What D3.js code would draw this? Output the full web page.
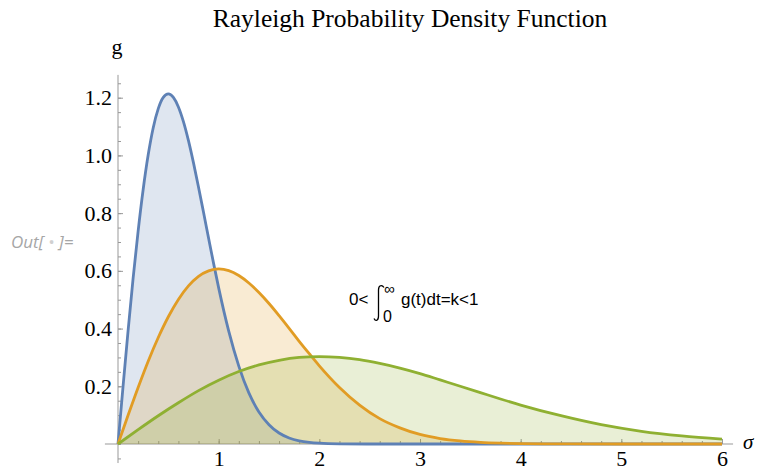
<!DOCTYPE html>
<html>
<head>
<meta charset="utf-8">
<script src="https://cdn.jsdelivr.net/npm/d3@7"></script>
<style>
	body { margin: 0; background: #fff; }
	svg { display: block; }
</style>
</head>
<body>
<svg width="757" height="474"></svg>
<script>
// values, sigma = 0.5, 1, 2
const xBlue = [0, 0.05, 0.1, 0.15, 0.2, 0.25, 0.3, 0.35, 0.4, 0.45, 0.5, 0.55, 0.6, 0.65, 0.7, 0.75, 0.8, 0.85, 0.9, 0.95, 1.0, 1.1, 1.2, 1.3, 1.4, 1.5, 1.6, 1.7, 1.8, 1.9, 2.0, 2.2, 2.5, 3, 4, 5, 6];
const yBlue = [0, 0.199, 0.392, 0.574, 0.738, 0.882, 1.002, 1.096, 1.162, 1.201, 1.213, 1.201, 1.168, 1.117, 1.051, 0.974, 0.890, 0.802, 0.713, 0.625, 0.541, 0.391, 0.270, 0.177, 0.111, 0.067, 0.038, 0.021, 0.011, 0.0056, 0.0027, 0.0006, 0, 0, 0, 0, 0];

const xOrange = [0, 0.1, 0.2, 0.3, 0.4, 0.5, 0.6, 0.7, 0.8, 0.9, 1.0, 1.1, 1.2, 1.3, 1.4, 1.5, 1.6, 1.7, 1.8, 1.9, 2.0, 2.2, 2.4, 2.6, 2.8, 3.0, 3.2, 3.4, 3.6, 3.8, 4.0, 4.5, 5, 6];
const yOrange = [0, 0.0995, 0.196, 0.287, 0.369, 0.441, 0.501, 0.548, 0.581, 0.600, 0.6065, 0.601, 0.584, 0.558, 0.525, 0.487, 0.445, 0.401, 0.356, 0.313, 0.271, 0.196, 0.135, 0.088, 0.056, 0.033, 0.019, 0.0105, 0.0055, 0.0028, 0.0013, 0.0002, 0, 0];

const xGreen = [0, 0.2, 0.4, 0.6, 0.8, 1.0, 1.2, 1.4, 1.6, 1.8, 2.0, 2.2, 2.4, 2.6, 2.8, 3.0, 3.2, 3.4, 3.6, 3.8, 4.0, 4.4, 4.8, 5.2, 5.6, 6.0];
const yGreen = [0, 0.0498, 0.098, 0.143, 0.185, 0.221, 0.251, 0.274, 0.290, 0.300, 0.303, 0.300, 0.292, 0.279, 0.263, 0.244, 0.222, 0.200, 0.178, 0.156, 0.135, 0.098, 0.067, 0.044, 0.028, 0.0167];

const xTicks = [1, 2, 3, 4, 5, 6];
const yTicks = [0.2, 0.4, 0.6, 0.8, 1.0, 1.2];

class RayleighChart {
	constructor() {
		this.svg = d3.select("svg");
		this.xScale = d3.scaleLinear().domain([0, 6]).range([118, 722]);
		this.yScale = d3.scaleLinear().domain([0, 1.2]).range([444, 97.7]);
		this.series = [
			{ xs: xBlue, ys: yBlue, colour: "#5E81B5" },
			{ xs: xOrange, ys: yOrange, colour: "#E19C24" },
			{ xs: xGreen, ys: yGreen, colour: "#8FB032" },
		];
		this.drawAxes();
		this.drawCurves();
		this.drawLabels();
	}

	drawAxes = () => {
		let g = this.svg.append("g").attr("class", "axes");
		let axisColour = "#999";
		// axis lines reach a little past the data range
		g.append("line")
			.attr("x1", this.xScale(-0.13))
			.attr("x2", this.xScale(6.11))
			.attr("y1", this.yScale(0))
			.attr("y2", this.yScale(0))
			.attr("stroke", axisColour);
		g.append("line")
			.attr("x1", this.xScale(0))
			.attr("x2", this.xScale(0))
			.attr("y1", this.yScale(-0.066))
			.attr("y2", this.yScale(1.279))
			.attr("stroke", axisColour);

		let xMinor = d3.range(1, 31).map((d) => d / 5);
		let yMinor = d3.range(-1, 26).map((d) => d / 20);

		g.append("g")
			.attr("transform", "translate(0," + this.yScale(0) + ")")
			.call(d3.axisBottom(this.xScale).tickValues(xMinor).tickSize(-3).tickFormat(""))
			.call((a) => a.select(".domain").remove());
		g.append("g")
			.attr("transform", "translate(0," + this.yScale(0) + ")")
			.call(d3.axisBottom(this.xScale).tickValues(xTicks).tickSize(-5).tickPadding(6).tickFormat(d3.format("d")))
			.call((a) => a.select(".domain").remove());
		g.append("g")
			.attr("transform", "translate(" + this.xScale(0) + ",0)")
			.call(d3.axisLeft(this.yScale).tickValues(yMinor).tickSize(-3).tickFormat(""))
			.call((a) => a.select(".domain").remove());
		g.append("g")
			.attr("transform", "translate(" + this.xScale(0) + ",0)")
			.call(d3.axisLeft(this.yScale).tickValues(yTicks).tickSize(-5).tickPadding(6).tickFormat(d3.format(".1f")))
			.call((a) => a.select(".domain").remove());

		g.selectAll(".tick line").attr("stroke", axisColour);
		g.selectAll(".tick text")
			.attr("font-family", "Liberation Serif")
			.attr("font-size", "22px")
			.attr("fill", "#000");
	};

	drawCurves = () => {
		let area = d3
			.area()
			.x((d) => this.xScale(d[0]))
			.y0(this.yScale(0))
			.y1((d) => this.yScale(d[1]))
			.curve(d3.curveMonotoneX);
		let line = d3
			.line()
			.x((d) => this.xScale(d[0]))
			.y((d) => this.yScale(d[1]))
			.curve(d3.curveMonotoneX);
		let pts = this.series.map((s) => s.xs.map((x, i) => [x, s.ys[i]]));
		this.series.forEach((s, i) => {
			this.svg
				.append("path")
				.attr("d", area(pts[i]))
				.attr("fill", s.colour)
				.attr("fill-opacity", 0.2);
		});
		this.series.forEach((s, i) => {
			this.svg
				.append("path")
				.attr("d", line(pts[i]))
				.attr("fill", "none")
				.attr("stroke", s.colour)
				.attr("stroke-width", 2.8);
		});
	};

	drawLabels = () => {
		this.svg
			.append("text")
			.attr("x", 410)
			.attr("y", 27)
			.attr("text-anchor", "middle")
			.attr("font-family", "Liberation Serif")
			.attr("font-size", "25.5px")
			.text("Rayleigh Probability Density Function");
		this.svg
			.append("text")
			.attr("x", 117)
			.attr("y", 54)
			.attr("text-anchor", "middle")
			.attr("font-family", "Liberation Serif")
			.attr("font-size", "22px")
			.text("g");
		this.svg
			.append("text")
			.attr("x", 743)
			.attr("y", 449)
			.attr("font-family", "Liberation Serif")
			.attr("font-style", "italic")
			.attr("font-size", "21px")
			.text("σ");

		let out = this.svg
			.append("text")
			.attr("x", 11)
			.attr("y", 248)
			.attr("font-family", "Open Sans")
			.attr("font-style", "italic")
			.attr("font-size", "17px")
			.attr("fill", "#a6a6a6");
		out.append("tspan").text("Out[");
		out.append("tspan").attr("fill", "#d0d0d0").text(" • ");
		out.append("tspan").text("]=");

		// integral annotation
		let ann = this.svg
			.append("g")
			.attr("font-family", "Liberation Sans")
			.attr("fill", "#000");
		ann.append("text").attr("x", 349).attr("y", 305).attr("font-size", "17px").text("0<");
		// integral sign drawn as a stroke
		ann.append("path")
			.attr("d", "M384,287.5 C382,284.5 378.5,285 378.5,290 L378.5,316 C378.5,321 375.5,321.5 374,318.5")
			.attr("fill", "none")
			.attr("stroke", "#000")
			.attr("stroke-width", 1.3);
		ann.append("text").attr("x", 384).attr("y", 294).attr("font-size", "15px").text("∞");
		ann.append("text").attr("x", 383).attr("y", 322).attr("font-size", "16px").text("0");
		ann.append("text").attr("x", 401).attr("y", 305).attr("font-size", "17px").text("g(t)dt=k<1");
	};
}

new RayleighChart();
</script>
</body>
</html>
